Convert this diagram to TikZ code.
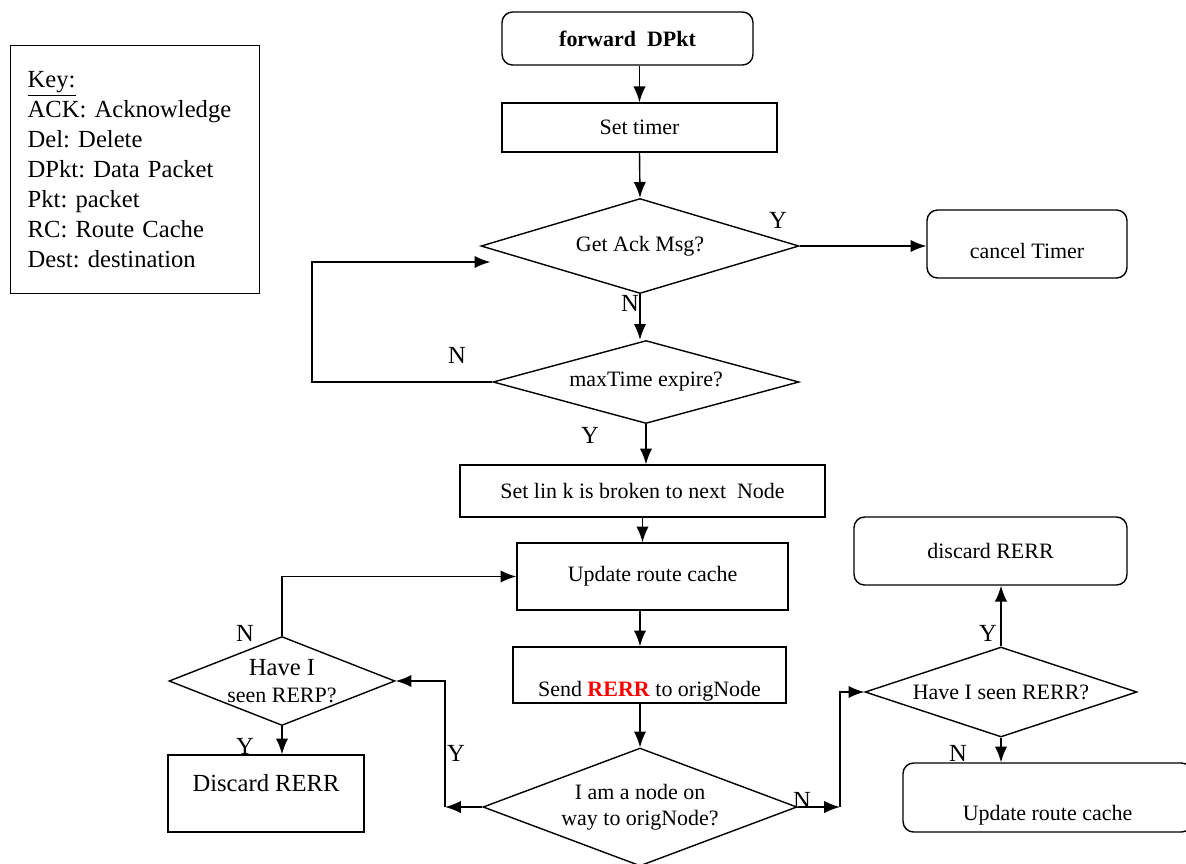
\documentclass[tikz,border=0pt]{standalone}
\usepackage{fontspec}
\setmainfont{Liberation Serif}
\frenchspacing
\usetikzlibrary{arrows.meta, shapes.geometric, calc}
\tikzset{>={Latex[length=9pt,width=7pt]}}
\tikzset{
  procbox/.style={draw, rectangle, inner sep=1pt},
  roundbox/.style={draw, rectangle, rounded corners=6pt, inner sep=1pt},
  decision/.style={draw, diamond, inner sep=0pt},
  yn/.style={font=\fontsize{14}{16}\selectfont, inner sep=0pt}
}

\begin{document}
\begin{tikzpicture}[thick, x=0.02cm, y=-0.02cm, font=\fontsize{12.5}{15}\selectfont]
\useasboundingbox (0,0) rectangle (1186,863);

		\node[draw, anchor=north west, minimum width=4.98cm, minimum height=4.96cm, text width=4.3cm, inner xsep=0.34cm, align=left, font=\fontsize{14}{17.1}\selectfont] (key) at (10,45) {\underline{Key:}\\ ACK: Acknowledge\\ Del: Delete\\ DPkt: Data Packet\\ Pkt: packet\\ RC: Route Cache\\ Dest: destination};

		\node[roundbox, minimum width=5.02cm, minimum height=1.06cm] (fwd) at (627.5,38.5) {\textbf{forward\ \ DPkt}};
		\node[procbox, minimum width=5.5cm, minimum height=0.98cm] (timer) at (639.5,127.5) {Set timer};
		\node[decision, minimum width=6.36cm, minimum height=1.9cm, aspect=3] (ack) at (640,246) {Get Ack Msg?};
		\node[roundbox, minimum width=4cm, minimum height=1.36cm, text height=19pt, text depth=2pt] (cancel) at (1027,244) {cancel Timer};
		\node[decision, minimum width=6.12cm, minimum height=1.66cm, aspect=3.5] (maxt) at (646,382) {maxTime expire?};
		\node[procbox, minimum width=7.3cm, minimum height=1.04cm] (link) at (642.5,491) {Set lin k is broken to next\ \ Node};
		\node[procbox, minimum width=5.42cm, minimum height=1.34cm] (upd) at (652.5,576.5) {Update route cache};
		\node[procbox, minimum width=5.46cm, minimum height=1.12cm, text height=26pt, text depth=2pt] (send) at (649.5,675) {Send \textcolor{red}{\textbf{RERR}} to origNode};
		\node[decision, minimum width=6.28cm, minimum height=2.36cm, aspect=2.5, align=center] (onway) at (640,807) {I am a node on\\ way to origNode?};
		\node[decision, minimum width=4.52cm, minimum height=1.78cm, aspect=2.5, inner sep=-4pt, align=center] (seenp) at (282,681) {{\fontsize{14}{15}\selectfont Have I}\\ seen RERP?};
		\node[procbox, minimum width=3.92cm, minimum height=1.54cm, font=\fontsize{14}{16}\selectfont, text height=10pt, text depth=12.8pt] (drop) at (266,793.5) {Discard RERR};
		\node[decision, minimum width=5.44cm, minimum height=1.8cm, aspect=3] (seenr) at (1001,692) {Have I seen RERR?};
		\node[roundbox, minimum width=5.46cm, minimum height=1.36cm] (drop2) at (990.5,551) {discard RERR};
		\node[roundbox, minimum width=5.78cm, minimum height=1.38cm, text height=28pt, text depth=2pt] (upd2) at (1047.5,797.5) {Update route cache};

		\coordinate (loopc) at (312,262);
		\coordinate (ybend) at (445,807);
		\coordinate (nbend) at (840,807);

		\draw [->] (timer.north |- fwd.south)--(timer.north);
		\draw [->] (timer.south)--(ack.north);
		\draw [->] (ack.east)--(ack.east -| cancel.west);
		\draw [->] (ack.south)--(ack.south |- maxt.north);
		\draw [->] (maxt.west) -| (loopc)--($(ack.west)+(10,16)$);
		\draw [->] (maxt.south)--(maxt.south |- link.north);
		\draw [->] (link.south)--(link.south |- upd.north);
		\draw [->] (upd.south -| onway.north)--(onway.north |- send.north);
		\draw [->] (send.south -| onway.north)--(onway.north);
		\draw [->] (onway.west)--(ybend);
		\draw [->] (ybend) |- (seenp.east);
		\draw [->] (seenp.south)--(seenp.south |- drop.north);
		\draw [->] (seenp.north) |- (upd.west);
		\draw [->] (onway.east)--(nbend);
		\draw [->] (nbend) |- (seenr.west);
		\draw [->] (seenr.north)--(seenr.north |- drop2.south);
		\draw [->] (seenr.south)--(seenr.south |- upd2.north);

		\node[yn] (y1) at (778,220) {Y};
		\node[yn] (n1) at (630,303) {N};
		\node[yn] (n2) at (457,355) {N};
		\node[yn] (y2) at (590,435) {Y};
		\node[yn] (y3) at (456,753) {Y};
		\node[yn] (n3) at (245,633) {N};
		\node[yn] (y4) at (245,746) {Y};
		\node[yn] (n4) at (802,800) {N};
		\node[yn] (y5) at (988,633) {Y};
		\node[yn] (n5) at (958,753) {N};

\end{tikzpicture}
\end{document}
